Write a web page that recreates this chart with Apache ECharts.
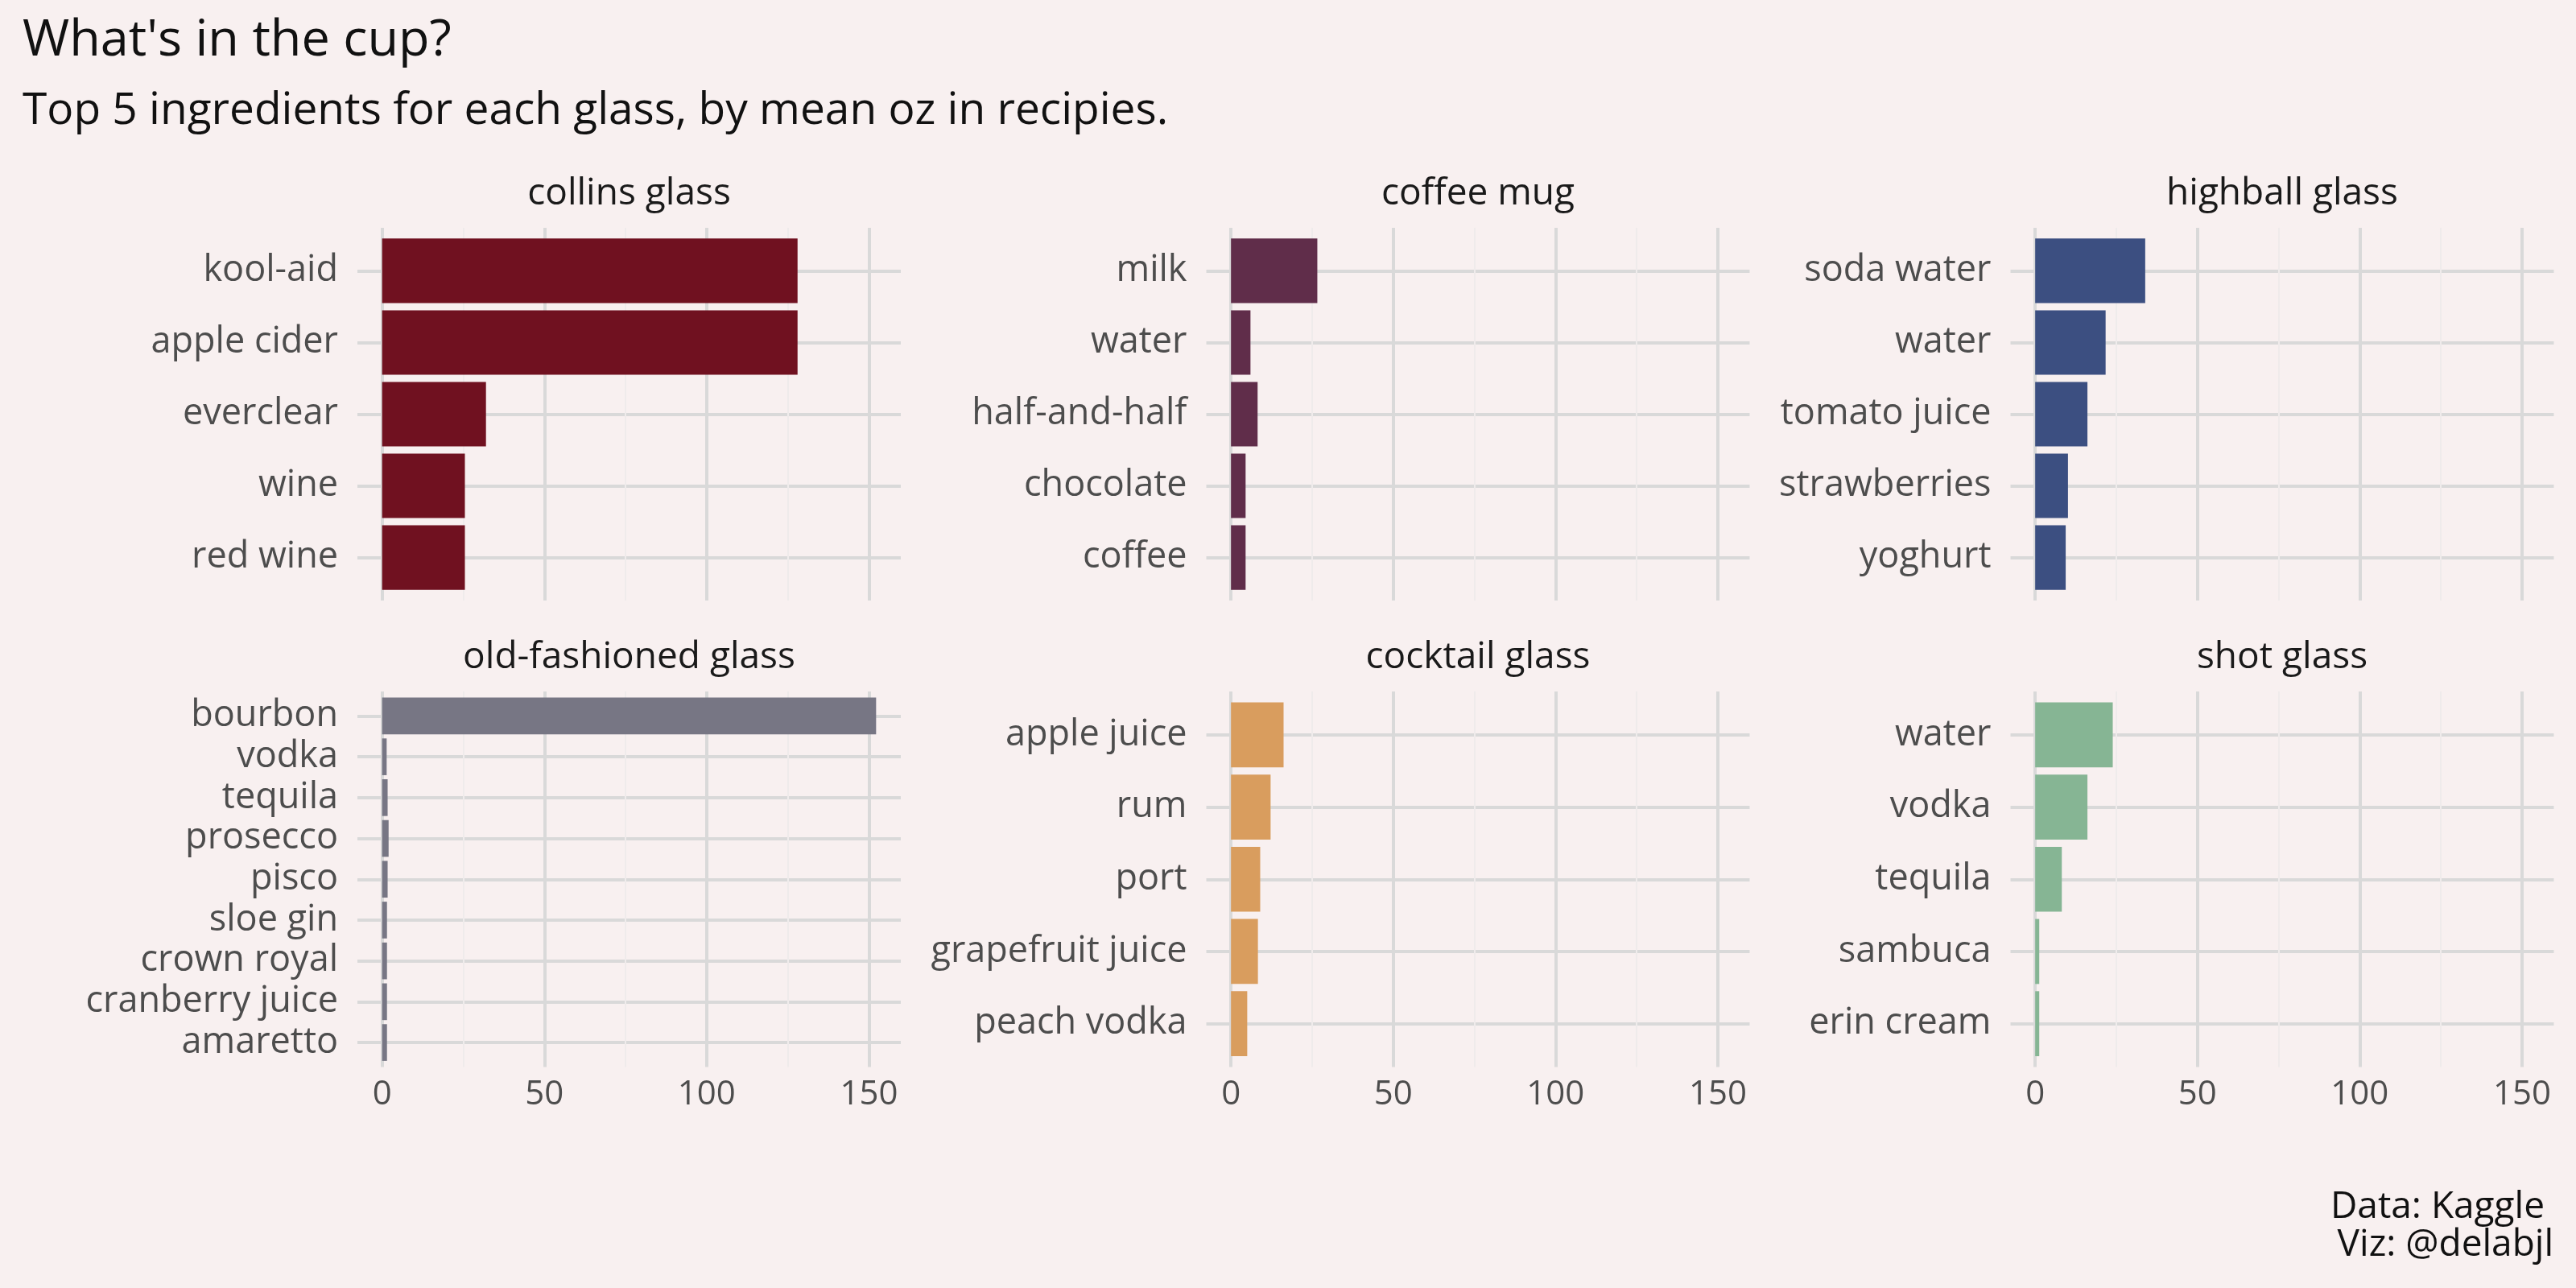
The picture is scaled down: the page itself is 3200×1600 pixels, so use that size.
<!DOCTYPE html>
<html>
<head>
<meta charset="utf-8">
<script src="https://cdn.jsdelivr.net/npm/echarts@6/dist/echarts.min.js"></script>
<style>
html,body{margin:0;padding:0;background:#F8F0F0;}
#chart{width:3200px;height:1600px;}
</style>
</head>
<body>
<div id="chart"></div>
<script>
// ---------- DATA ----------
const glassTitles = ['collins glass', 'coffee mug', 'highball glass', 'old-fashioned glass', 'cocktail glass', 'shot glass'];

const collinsIngredients = ['kool-aid', 'apple cider', 'everclear', 'wine', 'red wine'];
const collinsOz = [128, 128, 32, 25.5, 25.5];

const coffeeMugIngredients = ['milk', 'water', 'half-and-half', 'chocolate', 'coffee'];
const coffeeMugOz = [26.6, 6, 8.2, 4.5, 4.5];

const highballIngredients = ['soda water', 'water', 'tomato juice', 'strawberries', 'yoghurt'];
const highballOz = [33.9, 21.7, 16.1, 10.1, 9.4];

const oldFashionedIngredients = ['bourbon', 'vodka', 'tequila', 'prosecco', 'pisco', 'sloe gin', 'crown royal', 'cranberry juice', 'amaretto'];
const oldFashionedOz = [152.2, 1.4, 1.7, 2.0, 1.7, 1.5, 1.5, 1.5, 1.5];

const cocktailIngredients = ['apple juice', 'rum', 'port', 'grapefruit juice', 'peach vodka'];
const cocktailOz = [16.2, 12.2, 9.0, 8.3, 5.0];

const shotIngredients = ['water', 'vodka', 'tequila', 'sambuca', 'erin cream'];
const shotOz = [23.9, 16.1, 8.2, 1.25, 1.25];

const xTickValues = [0, 50, 100, 150];
const xMinorTickValues = [25, 75, 125];

const mainTitle = "What's in the cup?";
const subTitle = 'Top 5 ingredients for each glass, by mean oz in recipies.';
const captionLines = ['Data: Kaggle', 'Viz: @delabjl'];

// ---------- STYLE / LAYOUT ----------
const FONT = '"Open Sans", "Noto Sans", sans-serif';
const panelColors = ['#701120', '#602D4A', '#3C4F81', '#777684', '#D99D5E', '#86B594'];
const BG = '#F8F0F0';
const GRID_COLOR = '#D9D9D9';
const MINOR_COLOR = '#EFEBEB';
const LABEL_COLOR = '#4D4D4D';
const colLeft = [444, 1498.5, 2497.5];
const colWidth = 675;
const rowTop = [283, 859];
const rowHeight = [463, 466.5];
const AXIS_FONT = 45;
const TICK_FONT = 42;
const STRIP_FONT = 46;
const CAPTION_FONT = 46;

const panelNames = [collinsIngredients, coffeeMugIngredients, highballIngredients, oldFashionedIngredients, cocktailIngredients, shotIngredients];
const panelValues = [collinsOz, coffeeMugOz, highballOz, oldFashionedOz, cocktailOz, shotOz];

const dataMax = Math.max(...[].concat(...panelValues));
const xMin = -0.05 * dataMax;
const xMax = 1.05 * dataMax;

const grid = [], xAxis = [], yAxis = [], series = [], title = [];

title.push({text: mainTitle, left: 28, top: 20, padding: 0,
  textStyle: {fontFamily: FONT, fontSize: 63, fontWeight: 'normal', color: '#111111'}});
title.push({text: subTitle, left: 28, top: 111, padding: 0,
  textStyle: {fontFamily: FONT, fontSize: 55, fontWeight: 'normal', color: '#111111'}});
title.push({text: captionLines[0], right: 39, top: 1477, padding: 0,
  textStyle: {fontFamily: FONT, fontSize: CAPTION_FONT, fontWeight: 'normal', color: '#111111'}});
title.push({text: captionLines[1], right: 28, top: 1524, padding: 0,
  textStyle: {fontFamily: FONT, fontSize: CAPTION_FONT, fontWeight: 'normal', color: '#111111'}});

panelNames.forEach((names, i) => {
  const row = Math.floor(i / 3), col = i % 3;
  const L = colLeft[col], T = rowTop[row], W = colWidth, H = rowHeight[row];
  const N = names.length;
  const band = H / (N + 0.2);

  // strip title
  title.push({text: glassTitles[i], left: L + W / 2, top: T - 65, padding: 0, textAlign: 'center',
    textStyle: {fontFamily: FONT, fontSize: STRIP_FONT, fontWeight: 'normal', color: '#1A1A1A'}});

  // background grid: vertical grid lines + x tick labels
  const gBg = grid.length;
  grid.push({left: L, top: T, width: W, height: H});
  xAxis.push({gridIndex: gBg, type: 'value', min: xMin, max: xMax, position: 'top',
    axisLine: {show: false}, axisTick: {show: false, customValues: xMinorTickValues},
    axisLabel: {show: false, customValues: xMinorTickValues},
    splitLine: {show: true, lineStyle: {color: MINOR_COLOR, width: 2}}});
  xAxis.push({gridIndex: gBg, type: 'value', min: xMin, max: xMax, position: 'bottom',
    axisLine: {show: false}, axisTick: {show: false, customValues: xTickValues},
    axisLabel: {show: row === 1, customValues: xTickValues, margin: 14,
      fontFamily: FONT, fontSize: TICK_FONT, color: LABEL_COLOR},
    splitLine: {show: true, lineStyle: {color: GRID_COLOR, width: 4}}});
  yAxis.push({gridIndex: gBg, type: 'value', min: 0, max: 1, show: false});

  // bar grid: category axis spanning the centres of the first and last category
  const gBar = grid.length;
  grid.push({left: L, top: T + 0.6 * band, width: W, height: (N - 1) * band});
  const xi = xAxis.length;
  xAxis.push({gridIndex: gBar, type: 'value', min: xMin, max: xMax, show: false});
  const yi = yAxis.length;
  yAxis.push({gridIndex: gBar, type: 'category', data: names, inverse: true, boundaryGap: false,
    axisLine: {show: false}, axisTick: {show: false},
    axisLabel: {interval: 0, margin: 24, fontFamily: FONT, fontSize: AXIS_FONT, color: LABEL_COLOR},
    splitLine: {show: true, interval: 0, lineStyle: {color: GRID_COLOR, width: 4}}});

  series.push({type: 'bar', xAxisIndex: xi, yAxisIndex: yi, data: panelValues[i],
    barCategoryGap: '10%', clip: false, silent: true,
    itemStyle: {color: panelColors[i]}});
});

const chart = echarts.init(document.getElementById('chart'), null, {renderer: 'canvas'});
chart.setOption({
  backgroundColor: BG,
  animation: false,
  title, grid, xAxis, yAxis, series
});
</script>
</body>
</html>
